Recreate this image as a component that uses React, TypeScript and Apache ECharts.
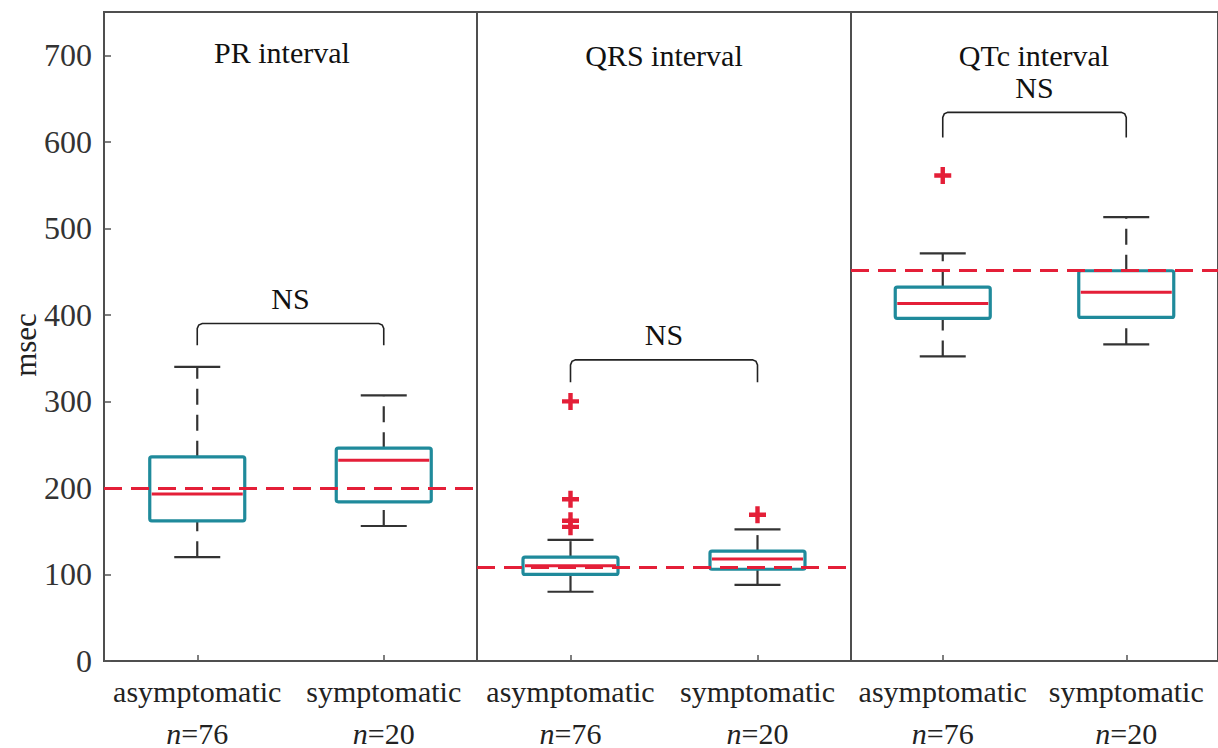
import React, { useEffect, useRef } from "react";
import * as echarts from "echarts";

// ---- data ----
const categories = ["asymptomatic", "symptomatic"];
const sampleSizes = [76, 20];
const panelTitles = ["PR interval", "QRS interval", "QTc interval"];
const yTicks = [0, 100, 200, 300, 400, 500, 600, 700];

// [lower whisker, Q1, median, Q3, upper whisker]
const prBoxes = [
  [120, 162, 193, 236, 340],
  [156, 184, 232, 246, 307],
];
const qrsBoxes = [
  [80, 100, 110, 120, 140],
  [88, 106, 118, 127, 152],
];
const qtcBoxes = [
  [352, 396, 413, 432, 471],
  [366, 397, 426, 451, 513],
];

// [category index, value]
const prOutliers: number[][] = [];
const qrsOutliers = [
  [0, 300],
  [0, 187],
  [0, 162],
  [0, 155],
  [1, 169],
];
const qtcOutliers = [[0, 561]];

const referenceValues = [200, 108, 451];

// [from category, to category, bracket top, leg bottom]
const prBracket = [0, 1, 390, 365];
const qrsBracket = [0, 1, 348, 322];
const qtcBracket = [0, 1, 634, 605];
const bracketLabel = "NS";

const FONT = '"Liberation Serif", "Times New Roman", serif';
const TEAL = "#1f8a9b";
const RED = "#e41f38";
const DARK = "#333333";

export default function App() {
  const ref = useRef<HTMLDivElement>(null);

  useEffect(() => {
    if (!ref.current) return;
    const chart = echarts.init(ref.current, undefined, { renderer: "svg" });

    const boxesAll = [prBoxes, qrsBoxes, qtcBoxes];
    const outliersAll = [prOutliers, qrsOutliers, qtcOutliers];
    const bracketsAll = [prBracket, qrsBracket, qtcBracket];

    const gridLefts = [104, 477, 851];
    const gridWidths = [373, 374, 374];

    const grids = gridLefts.map((l, i) => ({
      left: l,
      top: 12,
      width: gridWidths[i],
      height: 651,
      show: true,
      borderColor: "#4f4f4f",
      borderWidth: 2,
      backgroundColor: "transparent",
    }));

    const xAxes = gridLefts.map((_, i) => ({
      type: "category",
      gridIndex: i,
      data: categories,
      boundaryGap: true,
      axisLine: { show: false },
      axisTick: {
        show: true,
        inside: true,
        alignWithLabel: true,
        length: 6,
        lineStyle: { color: "#555", width: 1.5 },
      },
      axisLabel: {
        margin: 9,
        interval: 0,
        formatter: (v: string, idx: number) =>
          `{t|${v}}\n{i|n}{t|=${sampleSizes[idx]}}`,
        rich: {
          t: { fontFamily: FONT, fontSize: 30, color: "#222", lineHeight: 42 },
          i: {
            fontFamily: FONT,
            fontSize: 30,
            fontStyle: "italic",
            color: "#222",
            lineHeight: 42,
          },
        },
      },
      splitLine: { show: false },
    }));

    const yAxes = gridLefts.map((_, i) => ({
      type: "value",
      gridIndex: i,
      min: 0,
      max: 750,
      interval: 100,
      axisLine: { show: false },
      axisTick: {
        show: i === 0,
        inside: true,
        length: 7,
        lineStyle: { color: "#555", width: 1.5 },
      },
      axisLabel: {
        show: i === 0,
        showMaxLabel: false,
        margin: 12,
        fontFamily: FONT,
        fontSize: 32,
        color: "#333",
        formatter: (v: number) => (yTicks.includes(v) ? String(v) : ""),
      },
      splitLine: { show: false },
    }));

    const series: any[] = [];
    boxesAll.forEach((boxes, g) => {
      series.push({
        type: "custom",
        name: panelTitles[g] + " box",
        xAxisIndex: g,
        yAxisIndex: g,
        z: 2,
        data: boxes.map((b, i) => [i, ...b]),
        encode: { x: 0, y: [1, 2, 3, 4, 5] },
        renderItem: (params: any, api: any) => {
          const xi = api.value(0);
          const low = api.coord([xi, api.value(1)]);
          const q1 = api.coord([xi, api.value(2)]);
          const med = api.coord([xi, api.value(3)]);
          const q3 = api.coord([xi, api.value(4)]);
          const high = api.coord([xi, api.value(5)]);
          const cx = low[0];
          const bw = 95;
          const cw = 46;
          const whisker = { stroke: DARK, lineWidth: 2.2, lineDash: [16, 10] };
          const cap = { stroke: DARK, lineWidth: 2.2 };
          return {
            type: "group",
            children: [
              {
                type: "line",
                shape: { x1: cx, y1: q3[1], x2: cx, y2: high[1] },
                style: whisker,
              },
              {
                type: "line",
                shape: { x1: cx, y1: low[1], x2: cx, y2: q1[1] },
                style: whisker,
              },
              {
                type: "line",
                shape: { x1: cx - cw / 2, y1: high[1], x2: cx + cw / 2, y2: high[1] },
                style: cap,
              },
              {
                type: "line",
                shape: { x1: cx - cw / 2, y1: low[1], x2: cx + cw / 2, y2: low[1] },
                style: cap,
              },
              {
                type: "rect",
                shape: { x: cx - bw / 2, y: q3[1], width: bw, height: q1[1] - q3[1], r: 2 },
                style: { fill: "none", stroke: TEAL, lineWidth: 3.2 },
              },
              {
                type: "line",
                shape: { x1: cx - bw / 2 + 2, y1: med[1], x2: cx + bw / 2 - 2, y2: med[1] },
                style: { stroke: RED, lineWidth: 3 },
              },
            ],
          };
        },
      });

      series.push({
        type: "custom",
        name: panelTitles[g] + " bracket",
        xAxisIndex: g,
        yAxisIndex: g,
        z: 3,
        data: [bracketsAll[g]],
        encode: { x: [0, 1], y: [2, 3] },
        renderItem: (params: any, api: any) => {
          const a = api.coord([api.value(0), api.value(2)]);
          const b = api.coord([api.value(1), api.value(2)]);
          const legA = api.coord([api.value(0), api.value(3)]);
          const r = 5;
          return {
            type: "group",
            children: [
              {
                type: "polyline",
                shape: {
                  points: [
                    [a[0], legA[1]],
                    [a[0], a[1] + r],
                    [a[0] + 1.5, a[1] + 1.5],
                    [a[0] + r, a[1]],
                    [b[0] - r, b[1]],
                    [b[0] - 1.5, b[1] + 1.5],
                    [b[0], b[1] + r],
                    [b[0], legA[1]],
                  ],
                },
                style: { stroke: "#222", lineWidth: 1.6, fill: "none" },
              },
              {
                type: "text",
                x: (a[0] + b[0]) / 2,
                y: a[1] - 25,
                style: {
                  text: bracketLabel,
                  align: "center",
                  verticalAlign: "middle",
                  font: `30px ${FONT}`,
                  fill: "#111",
                },
              },
            ],
          };
        },
      });

      series.push({
        type: "scatter",
        name: panelTitles[g] + " outliers",
        xAxisIndex: g,
        yAxisIndex: g,
        z: 4,
        symbol:
          "path://M3.7,0h2.6v3.7h3.7v2.6h-3.7v3.7h-2.6v-3.7h-3.7v-2.6h3.7z",
        symbolSize: 17,
        itemStyle: { color: RED, opacity: 1 },
        data: outliersAll[g],
      });

      series.push({
        type: "line",
        name: panelTitles[g] + " reference",
        xAxisIndex: g,
        yAxisIndex: g,
        z: 6,
        data: [],
        markLine: {
          silent: true,
          symbol: "none",
          label: { show: false },
          lineStyle: { color: RED, width: 3, type: [18, 9] },
          data: [{ yAxis: referenceValues[g] }],
        },
      });
    });

    const titleCenters = [
      [282, 52],
      [664, 55],
      [1034, 55],
    ];

    const option: any = {
      animation: false,
      backgroundColor: "#ffffff",
      grid: grids,
      xAxis: xAxes,
      yAxis: yAxes,
      series,
      graphic: [
        ...panelTitles.map((t, i) => ({
          type: "text",
          x: titleCenters[i][0],
          y: titleCenters[i][1],
          style: {
            text: t,
            align: "center",
            verticalAlign: "middle",
            font: `30px ${FONT}`,
            fill: "#111",
          },
        })),
        {
          type: "text",
          x: 25,
          y: 345,
          rotation: Math.PI / 2,
          style: {
            text: "msec",
            align: "center",
            verticalAlign: "middle",
            font: `31px ${FONT}`,
            fill: "#222",
          },
        },
      ],
    };

    chart.setOption(option);
    return () => chart.dispose();
  }, []);

  return (
    <div
      ref={ref}
      style={{ position: "absolute", left: 0, top: 0, width: 1218, height: 748 }}
    />
  );
}
